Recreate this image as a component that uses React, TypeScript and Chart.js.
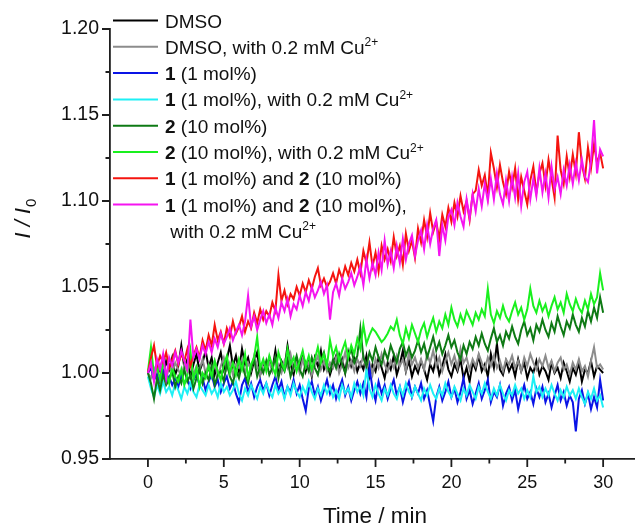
import { useEffect, useRef } from 'react';
import { Chart, registerables } from 'chart.js';

Chart.register(...registerables);

// Sampling interval of the fluorescence readings (minutes)
const TIME_STEP_MIN = 0.2;

// I / I0 readings, one value every 0.2 min from 0 to 30 min
const DMSO = [
  1.000, 1.005, 0.997, 1.006, 1.001, 0.998, 1.007, 1.002, 1.009, 0.999,
  1.004, 1.016, 1.003, 1.008, 0.998, 1.005, 1.011, 1.001, 1.006, 1.013,
  1.003, 1.009, 0.999, 1.006, 1.012, 1.002, 1.008, 1.016, 1.004, 1.010,
  1.001, 1.014, 1.005, 1.009, 1.000, 1.007, 1.012, 0.999, 1.006, 1.003,
  1.009, 1.002, 1.013, 1.001, 1.007, 1.003, 1.016, 1.005, 0.999, 1.008,
  1.003, 1.011, 1.001, 1.007, 0.998, 1.009, 1.004, 1.013, 1.002, 1.006,
  0.999, 1.005, 1.010, 1.002, 1.008, 1.000, 1.012, 1.004, 1.009, 1.001,
  1.006, 1.002, 1.010, 0.998, 1.005, 1.001, 1.009, 1.003, 0.997, 1.006,
  1.002, 1.010, 0.999, 1.005, 1.013, 1.001, 1.007, 0.998, 1.004, 1.000,
  1.007, 1.002, 0.996, 1.005, 1.001, 1.009, 0.999, 1.004, 1.011, 1.002,
  0.998, 1.005, 1.001, 1.008, 0.997, 1.003, 0.995, 1.006, 1.002, 1.010,
  1.001, 1.005, 0.998, 1.011, 1.003, 1.017, 1.002, 0.999, 1.007, 1.001,
  1.005, 0.998, 1.008, 1.001, 1.006, 0.997, 1.003, 1.000, 1.007, 0.999,
  1.004, 1.001, 0.996, 1.006, 1.000, 1.003, 0.997, 1.006, 1.001, 0.995,
  1.003, 0.999, 1.006, 0.995, 1.002, 1.000, 1.007, 0.998, 1.004, 1.002,
  1.000,
];

const DMSO_CU = [
  1.000, 0.997, 1.003, 0.999, 1.005, 1.001, 0.996, 1.004, 1.000, 1.006,
  1.002, 0.998, 1.005, 1.001, 1.007, 0.999, 1.004, 1.002, 1.008, 1.000,
  1.005, 1.001, 1.007, 0.998, 1.004, 1.009, 1.002, 1.006, 0.999, 1.005,
  1.003, 1.008, 1.000, 1.006, 1.002, 1.010, 1.004, 0.999, 1.007, 1.003,
  1.006, 1.001, 1.009, 1.004, 1.000, 1.007, 1.003, 1.011, 1.002, 1.006,
  1.000, 1.008, 1.003, 1.006, 0.999, 1.005, 1.010, 1.002, 1.007, 1.001,
  1.006, 1.003, 1.009, 1.000, 1.005, 1.012, 1.003, 1.007, 1.001, 1.008,
  1.004, 1.010, 1.002, 1.006, 0.999, 1.008, 1.003, 1.011, 1.005, 1.001,
  1.007, 1.003, 1.010, 1.004, 1.008, 1.001, 1.012, 1.005, 1.009, 1.003,
  1.008, 1.002, 1.011, 1.006, 1.013, 1.004, 1.009, 1.001, 1.007, 1.012,
  1.005, 1.010, 1.003, 1.014, 1.006, 1.009, 1.002, 1.008, 1.004, 1.011,
  1.006, 1.002, 1.009, 1.004, 1.010, 1.003, 1.007, 1.001, 1.008, 1.005,
  1.010, 1.003, 1.007, 1.001, 1.009, 1.004, 1.011, 1.006, 1.002, 1.008,
  1.004, 1.010, 1.003, 1.007, 1.001, 1.006, 1.009, 1.002, 1.005, 0.999,
  1.006, 1.002, 1.008, 1.001, 1.004, 0.998, 1.007, 1.015, 1.003, 1.005,
  1.002,
];

const CAT1 = [
  1.000, 1.003, 0.996, 0.999, 0.994, 1.001, 0.995, 0.998, 0.993, 0.997,
  0.992, 0.999, 0.994, 0.997, 0.991, 0.996, 0.999, 0.993, 0.997, 0.990,
  0.995, 0.999, 0.992, 0.996, 0.989, 0.994, 0.998, 0.991, 0.995, 0.988,
  0.983, 0.993, 0.997, 0.989, 0.994, 0.986, 0.992, 0.996, 0.990, 0.994,
  0.987, 0.993, 0.998, 0.990, 0.995, 0.986, 0.992, 0.989, 0.996, 0.988,
  0.993, 0.985, 0.978, 0.991, 0.995, 0.987, 0.992, 0.984, 0.990, 0.996,
  0.988, 0.993, 0.985, 0.991, 0.996, 0.987, 0.992, 0.984, 0.990, 0.995,
  0.988, 0.994, 0.986, 1.003, 0.991, 0.984, 0.995, 0.988, 0.993, 0.985,
  0.991, 0.996, 0.987, 0.992, 0.983, 0.990, 0.995, 0.986, 0.992, 0.988,
  0.994, 0.985, 0.990, 0.981, 0.972, 0.986, 0.992, 0.984, 0.989, 0.995,
  0.986, 0.991, 0.983, 0.989, 0.997, 0.985, 0.990, 0.982, 0.988, 0.994,
  0.985, 0.990, 0.996, 0.983, 0.989, 0.986, 0.993, 0.981, 0.988, 0.992,
  0.984, 0.990, 0.979, 0.987, 0.993, 0.985, 0.989, 0.982, 0.991, 0.986,
  0.992, 0.983, 0.988, 0.980, 0.987, 0.993, 0.984, 0.989, 0.981, 0.987,
  0.983, 0.966, 0.985, 0.990, 0.982, 0.988, 0.979, 0.986, 0.980, 0.996,
  0.984,
];

const CAT1_CU = [
  0.998, 0.991, 0.986, 0.993, 0.988, 0.995, 0.989, 0.992, 0.987, 0.994,
  0.990, 0.985, 0.992, 0.988, 0.994, 0.989, 0.986, 0.993, 0.990, 0.987,
  0.993, 0.988, 0.991, 0.986, 0.994, 0.989, 0.992, 0.987, 0.990, 0.995,
  0.988, 0.984, 0.991, 0.987, 0.993, 0.989, 0.985, 0.992, 0.988, 0.994,
  0.989, 0.986, 0.993, 0.988, 0.991, 0.985, 0.992, 0.987, 0.994, 0.989,
  0.986, 0.992, 0.988, 0.995, 0.989, 0.985, 0.991, 0.987, 0.993, 0.988,
  0.992, 0.986, 0.990, 0.985, 0.993, 0.988, 0.991, 0.986, 0.994, 0.989,
  0.993, 0.987, 1.002, 0.991, 0.986, 0.993, 0.988, 0.984, 0.991, 0.987,
  0.993, 0.988, 0.985, 0.992, 0.987, 0.994, 0.989, 0.986, 0.992, 0.988,
  0.984, 0.991, 0.987, 0.993, 0.988, 0.985, 0.991, 0.987, 0.994, 0.989,
  0.986, 0.992, 0.988, 0.984, 0.991, 0.987, 0.993, 0.989, 0.985, 0.992,
  0.988, 0.994, 0.989, 0.985, 0.991, 0.987, 0.993, 0.988, 0.984, 0.990,
  0.987, 0.993, 0.988, 0.991, 0.985, 0.990, 0.986, 0.998, 0.989, 0.992,
  0.986, 0.991, 0.987, 0.993, 0.988, 0.984, 0.990, 0.986, 0.992, 0.987,
  0.990, 0.985, 0.991, 0.986, 0.982, 0.989, 0.985, 0.991, 0.984, 0.987,
  0.980,
];

const CAT2 = [
  1.000, 0.994, 0.985, 0.997, 0.990, 0.999, 0.993, 0.996, 1.001, 0.992,
  0.998, 0.994, 1.002, 0.995, 0.999, 0.991, 0.997, 1.003, 0.994, 1.000,
  0.996, 1.004, 0.993, 0.999, 1.001, 0.995, 1.006, 0.998, 0.994, 1.002,
  0.997, 1.005, 0.999, 0.994, 1.003, 1.008, 0.998, 1.004, 1.000, 1.007,
  0.999, 1.003, 1.009, 0.997, 1.005, 1.001, 1.008, 0.998, 1.004, 1.010,
  1.002, 0.998, 1.006, 1.001, 1.009, 1.003, 0.999, 1.007, 1.012, 1.004,
  1.001, 1.008, 1.003, 1.011, 1.005, 1.000, 1.009, 1.014, 1.006, 1.010,
  1.026, 1.009, 1.004, 1.012, 1.007, 1.015, 1.009, 1.005, 1.013, 1.008,
  1.016, 1.011, 1.006, 1.014, 1.018, 1.010, 1.015, 1.009, 1.013, 1.019,
  1.012, 1.017, 1.009, 1.015, 1.021, 1.013, 1.018, 1.011, 1.016, 1.022,
  1.015, 1.019, 1.012, 1.008, 1.016, 1.011, 1.018, 1.014, 1.021, 1.016,
  1.023, 1.017, 1.013, 1.020, 1.026, 1.018, 1.022, 1.016, 1.024, 1.020,
  1.027, 1.021, 1.017, 1.025, 1.030, 1.022, 1.026, 1.019, 1.028, 1.024,
  1.031, 1.025, 1.021, 1.029, 1.024, 1.033, 1.027, 1.022, 1.030, 1.026,
  1.034, 1.028, 1.024, 1.032, 1.027, 1.036, 1.030, 1.038, 1.032, 1.044,
  1.035,
];

const CAT2_CU = [
  1.001, 1.015, 0.999, 1.004, 0.996, 1.006, 1.000, 0.994, 1.003, 0.998,
  0.995, 1.002, 0.993, 0.999, 1.013, 0.996, 1.003, 0.992, 1.000, 0.997,
  1.004, 0.998, 1.007, 1.001, 0.996, 1.005, 1.010, 1.000, 1.006, 0.999,
  1.008, 1.002, 1.011, 0.997, 1.005, 1.009, 1.021, 1.003, 1.008, 1.001,
  1.010, 1.004, 0.999, 1.012, 1.006, 1.002, 1.014, 1.005, 1.009, 1.001,
  1.007, 1.013, 1.004, 1.010, 1.002, 1.008, 1.015, 1.006, 1.011, 1.004,
  1.019, 1.010, 1.015, 1.007, 1.013, 1.018, 1.009, 1.016, 1.011, 1.020,
  1.014, 1.028, 1.017, 1.022, 1.026, 1.024, 1.021, 1.018, 1.020, 1.023,
  1.027, 1.025, 1.031, 1.022, 1.017, 1.026, 1.020, 1.028, 1.023, 1.018,
  1.025, 1.029, 1.021, 1.027, 1.032, 1.024, 1.030, 1.026, 1.034, 1.028,
  1.038, 1.031, 1.027, 1.034, 1.029, 1.036, 1.032, 1.028, 1.035, 1.031,
  1.037, 1.033, 1.049, 1.034, 1.029, 1.036, 1.032, 1.039, 1.033, 1.030,
  1.036, 1.041, 1.034, 1.038, 1.031, 1.037, 1.049, 1.039, 1.035, 1.042,
  1.036, 1.040, 1.033, 1.039, 1.044, 1.037, 1.041, 1.035, 1.046, 1.040,
  1.036, 1.043, 1.038, 1.035, 1.042, 1.037, 1.046, 1.040, 1.044, 1.058,
  1.048,
];

const CAT1_CAT2 = [
  1.000, 1.009, 1.016, 1.004, 1.010, 1.006, 1.012, 1.003, 1.008, 1.013,
  1.005, 1.011, 1.007, 1.014, 1.004, 1.010, 1.015, 1.009, 1.019, 1.013,
  1.022, 1.016, 1.028, 1.019, 1.024, 1.017, 1.026, 1.021, 1.030, 1.023,
  1.027, 1.033, 1.024, 1.030, 1.026, 1.035, 1.029, 1.037, 1.031, 1.036,
  1.033, 1.041, 1.036, 1.057, 1.042, 1.048, 1.040, 1.046, 1.043, 1.050,
  1.045, 1.052, 1.047, 1.054, 1.049, 1.056, 1.061, 1.051, 1.055, 1.050,
  1.053, 1.058, 1.052, 1.060, 1.055, 1.062, 1.057, 1.064, 1.059, 1.066,
  1.058, 1.071, 1.064, 1.076, 1.062, 1.070, 1.059, 1.074, 1.066, 1.072,
  1.065, 1.079, 1.068, 1.074, 1.063, 1.081, 1.071, 1.077, 1.067, 1.084,
  1.076, 1.089, 1.079, 1.093, 1.082, 1.088, 1.078, 1.092, 1.085, 1.096,
  1.088, 1.099, 1.091, 1.103, 1.094, 1.100, 1.089, 1.104, 1.106, 1.118,
  1.109, 1.115, 1.103, 1.128, 1.119, 1.108, 1.121, 1.111, 1.104, 1.117,
  1.108, 1.119, 1.101, 1.114, 1.106, 1.098, 1.112, 1.120, 1.105, 1.116,
  1.122, 1.109, 1.124, 1.113, 1.102, 1.138, 1.118, 1.110, 1.126, 1.114,
  1.127, 1.116, 1.140, 1.121, 1.113, 1.131, 1.119, 1.133, 1.122, 1.128,
  1.119,
];

const CAT1_CAT2_CU = [
  1.000, 1.006, 0.995, 1.008, 1.002, 1.011, 0.997, 1.009, 1.004, 1.012,
  1.006, 1.013, 1.007, 1.002, 1.031, 1.009, 1.014, 1.008, 1.016, 1.011,
  1.018, 1.012, 1.020, 1.015, 1.023, 1.017, 1.021, 1.026, 1.019, 1.024,
  1.028, 1.022, 1.030, 1.045, 1.027, 1.033, 1.025, 1.031, 1.036, 1.029,
  1.034, 1.028, 1.038, 1.032, 1.041, 1.036, 1.043, 1.033, 1.040, 1.037,
  1.045, 1.039, 1.047, 1.042, 1.050, 1.044, 1.048, 1.053, 1.046, 1.051,
  1.031, 1.047, 1.052, 1.045, 1.055, 1.049, 1.053, 1.058, 1.051, 1.056,
  1.062, 1.051, 1.066, 1.055, 1.064, 1.057, 1.070, 1.060, 1.077, 1.063,
  1.071, 1.061, 1.074, 1.064, 1.078, 1.066, 1.075, 1.080, 1.068, 1.077,
  1.083, 1.072, 1.086, 1.075, 1.084, 1.089, 1.068, 1.086, 1.077, 1.091,
  1.095, 1.086, 1.099, 1.091, 1.085, 1.101, 1.090, 1.104, 1.094, 1.107,
  1.097, 1.110, 1.100, 1.113, 1.101, 1.116, 1.104, 1.098, 1.112, 1.100,
  1.114, 1.102, 1.116, 1.097, 1.111, 1.117, 1.101, 1.113, 1.103, 1.119,
  1.105, 1.116, 1.102, 1.120, 1.107, 1.114, 1.104, 1.118, 1.109, 1.121,
  1.110, 1.122, 1.112, 1.124, 1.114, 1.111, 1.123, 1.147, 1.116, 1.130,
  1.126,
];

// Axis ticks
const X_LABEL_TICKS = [0, 5, 10, 15, 20, 25, 30];
const X_MINOR_TICKS = [2.5, 7.5, 12.5, 17.5, 22.5, 27.5];
const Y_LABEL_TICKS = [0.95, 1.0, 1.05, 1.1, 1.15, 1.2];
const Y_MINOR_TICKS = [0.975, 1.025, 1.075, 1.125, 1.175];

// Legend text: runs of plain / bold / superscript text
type Run = { t: string; b?: boolean; sup?: boolean };
const CU = [{ t: ' with 0.2 mM Cu' }, { t: '2+', sup: true }];
const LEGEND_TEXT: Run[][] = [
  [{ t: 'DMSO' }],
  [{ t: 'DMSO,' }, ...CU],
  [{ t: '1', b: true }, { t: ' (1 mol%)' }],
  [{ t: '1', b: true }, { t: ' (1 mol%),' }, ...CU],
  [{ t: '2', b: true }, { t: ' (10 mol%)' }],
  [{ t: '2', b: true }, { t: ' (10 mol%),' }, ...CU],
  [{ t: '1', b: true }, { t: ' (1 mol%) and ' }, { t: '2', b: true }, { t: ' (10 mol%)' }],
  [{ t: '1', b: true }, { t: ' (1 mol%) and ' }, { t: '2', b: true }, { t: ' (10 mol%),' }],
];
const LEGEND_CONTINUATION: Run[] = [...CU];

const SERIES = [
  { label: 'DMSO', values: DMSO, color: '#000000' },
  { label: 'DMSO, with 0.2 mM Cu2+', values: DMSO_CU, color: '#8c8c8c' },
  { label: '1 (1 mol%)', values: CAT1, color: '#0a14e6' },
  { label: '1 (1 mol%), with 0.2 mM Cu2+', values: CAT1_CU, color: '#1ef0f5' },
  { label: '2 (10 mol%)', values: CAT2, color: '#0e7a14' },
  { label: '2 (10 mol%), with 0.2 mM Cu2+', values: CAT2_CU, color: '#19f01e' },
  { label: '1 (1 mol%) and 2 (10 mol%)', values: CAT1_CAT2, color: '#f5140f' },
  { label: '1 (1 mol%) and 2 (10 mol%), with 0.2 mM Cu2+', values: CAT1_CAT2_CU, color: '#f514f0' },
];

const FONT = '"Liberation Sans", Arial, sans-serif';
const AXIS_COLOR = '#1e1e1e';

function drawRuns(ctx: CanvasRenderingContext2D, runs: Run[], x: number, y: number) {
  let cx = x;
  for (const r of runs) {
    ctx.font = r.sup ? `12px ${FONT}` : `${r.b ? 'bold ' : ''}19px ${FONT}`;
    ctx.fillText(r.t, cx, r.sup ? y - 7.5 : y);
    cx += ctx.measureText(r.t).width;
  }
}

const decorPlugin = {
  id: 'decor',
  afterDraw(chart: any) {
    const { ctx, chartArea, scales } = chart;
    const xs = scales.x;
    const ys = scales.y;
    ctx.save();
    ctx.strokeStyle = AXIS_COLOR;
    ctx.lineWidth = 1.8;
    ctx.beginPath();
    for (const v of X_LABEL_TICKS) {
      const px = xs.getPixelForValue(v);
      ctx.moveTo(px, chartArea.bottom);
      ctx.lineTo(px, chartArea.bottom + 8);
    }
    for (const v of X_MINOR_TICKS) {
      const px = xs.getPixelForValue(v);
      ctx.moveTo(px, chartArea.bottom);
      ctx.lineTo(px, chartArea.bottom + 4.5);
    }
    for (const v of Y_LABEL_TICKS) {
      const py = ys.getPixelForValue(v);
      ctx.moveTo(chartArea.left, py);
      ctx.lineTo(chartArea.left - 8, py);
    }
    for (const v of Y_MINOR_TICKS) {
      const py = ys.getPixelForValue(v);
      ctx.moveTo(chartArea.left, py);
      ctx.lineTo(chartArea.left - 4.5, py);
    }
    ctx.stroke();

    ctx.fillStyle = '#111';
    // x title
    ctx.font = `22.5px ${FONT}`;
    ctx.textAlign = 'center';
    ctx.textBaseline = 'alphabetic';
    ctx.fillText('Time / min', 375, 523);

    // y title: I / I0, rotated
    ctx.save();
    ctx.translate(30, 219);
    ctx.rotate(-Math.PI / 2);
    ctx.textAlign = 'left';
    const main = `italic 22px ${FONT}`;
    const sub = `15px ${FONT}`;
    ctx.font = main;
    const w1 = ctx.measureText('I / I').width;
    ctx.font = sub;
    const w2 = ctx.measureText('0').width;
    const start = -(w1 + w2) / 2;
    ctx.font = main;
    ctx.fillText('I / I', start, 0);
    ctx.font = sub;
    ctx.fillText('0', start + w1 + 1, 6);
    ctx.restore();

    // legend
    ctx.textAlign = 'left';
    ctx.textBaseline = 'alphabetic';
    const rowH = 26.3;
    const firstY = 20.5;
    chart.data.datasets.forEach((ds: any, i: number) => {
      const y = firstY + i * rowH;
      ctx.strokeStyle = ds.borderColor;
      ctx.lineWidth = 2;
      ctx.beginPath();
      ctx.moveTo(113, y);
      ctx.lineTo(158, y);
      ctx.stroke();
      drawRuns(ctx, LEGEND_TEXT[i], 165, y + 7);
    });
    drawRuns(ctx, LEGEND_CONTINUATION, 165, firstY + 8 * rowH + 7);
    ctx.restore();
  },
};

export default function App() {
  const ref = useRef<HTMLCanvasElement>(null);
  useEffect(() => {
    if (!ref.current) return;
    const chart = new Chart(ref.current, {
      type: 'line',
      data: {
        datasets: SERIES.map((s, i) => ({
          label: s.label,
          data: s.values.map((v, k) => ({ x: k * TIME_STEP_MIN, y: v })),
          borderColor: s.color,
          backgroundColor: s.color,
          borderWidth: 2,
          pointRadius: 0,
          tension: 0,
          order: SERIES.length - i,
        })),
      },
      options: {
        animation: false,
        responsive: false,
        events: [],
        layout: { padding: { top: 29, left: 0, right: 0, bottom: 0 } },
        plugins: { legend: { display: false }, tooltip: { enabled: false } },
        scales: {
          x: {
            type: 'linear',
            min: -2.5,
            max: 32.1,
            afterBuildTicks: (s: any) => {
              s.ticks = X_LABEL_TICKS.map((value) => ({ value }));
            },
            afterFit: (s: any) => {
              s.height = 68;
            },
            grid: { display: true, drawOnChartArea: false, drawTicks: false },
            border: { color: AXIS_COLOR, width: 1.8 },
            ticks: {
              padding: 13,
              color: '#111',
              font: { family: FONT, size: 18 },
              maxRotation: 0,
              autoSkip: false,
              callback: (v: any) => String(v),
            },
          },
          y: {
            type: 'linear',
            min: 0.95,
            max: 1.2,
            afterBuildTicks: (s: any) => {
              s.ticks = Y_LABEL_TICKS.map((value) => ({ value }));
            },
            afterFit: (s: any) => {
              s.width = 110;
            },
            grid: { display: true, drawOnChartArea: false, drawTicks: false },
            border: { color: AXIS_COLOR, width: 1.8 },
            ticks: {
              padding: 11,
              color: '#111',
              font: { family: FONT, size: 19.5 },
              autoSkip: false,
              callback: (v: any) => Number(v).toFixed(2),
            },
          },
        },
      },
      plugins: [decorPlugin],
    } as any);
    return () => chart.destroy();
  }, []);
  return (
    <div style={{ position: 'fixed', left: 0, top: 0, width: 635, height: 527, background: '#fff', overflow: 'hidden' }}>
      <canvas ref={ref} width={635} height={527} style={{ display: 'block' }} />
    </div>
  );
}
